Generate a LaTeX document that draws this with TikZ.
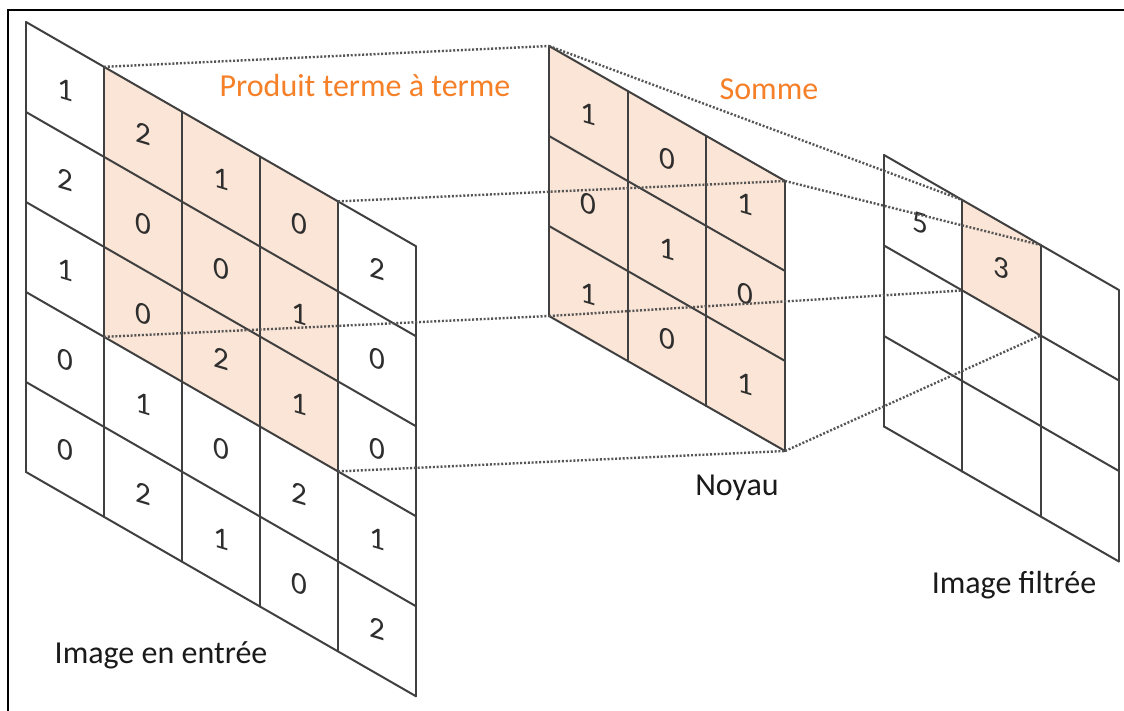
\documentclass[tikz,border=0pt]{standalone}
\usepackage{fontspec}
\setmainfont{Carlito}
\definecolor{peach}{HTML}{FBE5D6}
\definecolor{gridc}{HTML}{404040}
\definecolor{dotc}{HTML}{555555}
\definecolor{digc}{HTML}{2E2E2E}
\definecolor{orangelab}{RGB}{245,128,40}
\definecolor{labc}{HTML}{1A1A1A}
\begin{document}
\begin{tikzpicture}[x=1pt,y=-1pt,
  gridline/.style={draw=gridc, line width=2pt, line cap=round},
  proj/.style={draw=dotc, line width=2.4pt, dash pattern=on 2pt off 1.8pt},
  digit/.style={font=\fontsize{31}{31}\selectfont, text=digc, inner sep=0pt, yslant=-0.3},
  lab/.style={font=\fontsize{32}{32}\selectfont, anchor=base, inner sep=0pt},
]
\useasboundingbox (0,0) rectangle (1124,711);
\fill[white] (0,0) rectangle (1124,711);

% corner coordinates
\foreach \i in {0,...,5}{\foreach \j in {0,...,5}{
  \coordinate (in-\i-\j) at ({26+78*\i},{22+44.85*\i+90*\j});}}
\foreach \i in {0,...,3}{\foreach \j in {0,...,3}{
  \coordinate (k-\i-\j) at ({549+78.7*\i},{46+45*\i+90*\j});
  \coordinate (out-\i-\j) at ({884+78.3*\i},{155+45*\i+90.5*\j});}}

% shaded cells
\fill[peach] (in-1-0)--(in-4-0)--(in-4-3)--(in-1-3)--cycle;
\fill[peach] (k-0-0)--(k-3-0)--(k-3-3)--(k-0-3)--cycle;
\fill[peach] (out-1-0)--(out-2-0)--(out-2-1)--(out-1-1)--cycle;

% grid lines
\foreach \i in {0,...,5}{\draw[gridline] (in-\i-0)--(in-\i-5);
  \draw[gridline] (in-0-\i)--(in-5-\i);}
\foreach \i in {0,...,3}{\draw[gridline] (k-\i-0)--(k-\i-3);
  \draw[gridline] (k-0-\i)--(k-3-\i);
  \draw[gridline] (out-\i-0)--(out-\i-3);
  \draw[gridline] (out-0-\i)--(out-3-\i);}

% digits of the input image
\foreach \c/\r/\v in {0/0/1,1/0/2,2/0/1,3/0/0,4/0/2,
                      0/1/2,1/1/0,2/1/0,3/1/1,4/1/0,
                      0/2/1,1/2/0,2/2/2,3/2/1,4/2/0,
                      0/3/0,1/3/1,2/3/0,3/3/2,4/3/1,
                      0/4/0,1/4/2,2/4/1,3/4/0,4/4/2}
  \node[digit] (din-\c-\r) at ({26+78*(\c+0.5)},{22+44.85*(\c+0.5)+90*(\r+0.5)}) {\v};
% digits of the kernel
\foreach \c/\r/\v in {0/0/1,1/0/0,2/0/1,
                      0/1/0,1/1/1,2/1/0,
                      0/2/1,1/2/0,2/2/1}
  \node[digit] (dk-\c-\r) at ({549+78.7*(\c+0.5)},{46+45*(\c+0.5)+90*(\r+0.5)}) {\v};
% digits of the output
\node[digit] (dout-0-0) at ({884+78.3*0.5-3},{155+45*0.5+90.5*0.5}) {5};
\node[digit] (dout-1-0) at ({884+78.3*1.5},{155+45*1.5+90.5*0.5}) {3};

% projection lines
\draw[proj] (in-1-0)--(k-0-0);
\draw[proj] (in-4-0)--(k-3-0);
\draw[proj] (in-1-3)--(k-0-3);
\draw[proj] (in-4-3)--(k-3-3);
\draw[proj] (k-0-0)--(out-1-0);
\draw[proj] (k-3-0)--(out-2-0);
\draw[proj] (k-0-3)--(out-1-1);
\draw[proj] (k-3-3)--(out-2-1);

% labels
\node[lab, text=orangelab] (l-prod) at (365,97) {Produit terme à terme};
\node[lab, text=orangelab] (l-somme) at (769,100) {Somme};
\node[lab, text=labc] (l-noyau) at (737,495) {Noyau};
\node[lab, text=labc] (l-filt) at (1014,593) {Image filtrée};
\node[lab, text=labc] (l-entree) at (161,663) {Image en entrée};

% frame
\draw[black, line width=2pt] (1124,10) -- (8,10) -- (8,711);
\end{tikzpicture}
\end{document}
